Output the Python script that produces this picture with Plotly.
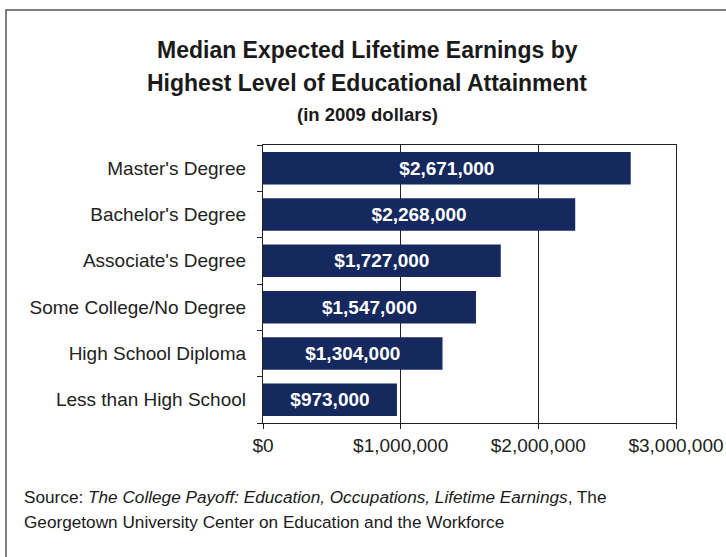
import plotly.graph_objects as go

categories = ["Less than High School", "High School Diploma", "Some College/No Degree",
              "Associate's Degree", "Bachelor's Degree", "Master's Degree"]
earnings = [973000, 1304000, 1547000, 1727000, 2268000, 2671000]
bar_labels = ["$973,000", "$1,304,000", "$1,547,000", "$1,727,000", "$2,268,000", "$2,671,000"]
tick_vals = [0, 1000000, 2000000, 3000000]
tick_text = ["$0", "$1,000,000", "$2,000,000", "$3,000,000"]

W, H = 726, 557
L, R, T, B = 263, 50, 145, 134
pw, ph = W - L - R, H - T - B

def px(x):
    return (x - L) / pw

def py(y):
    return 1 - (y - T) / ph

FONT = "Liberation Sans, Arial, sans-serif"

fig = go.Figure(go.Bar(
    y=categories, x=earnings, orientation="h",
    marker=dict(color="#15295f", line=dict(width=0)),
    width=0.7,
    text=bar_labels, textposition="inside", insidetextanchor="middle",
    textfont=dict(color="white", size=19, family=FONT),
    texttemplate="<b>%{text}</b>",
    cliponaxis=False,
))

fig.update_layout(
    width=W, height=H,
    margin=dict(l=L, r=R, t=T, b=B, autoexpand=False),
    paper_bgcolor="white", plot_bgcolor="white",
    font=dict(family=FONT, color="#222222", size=19),
    showlegend=False,
    uniformtext=dict(mode=False),
)
fig.update_xaxes(
    range=[0, 3000000], tickvals=tick_vals, ticktext=tick_text,
    showgrid=True, gridcolor="#222222", gridwidth=1.3,
    showline=True, linecolor="#222222", linewidth=1.3, mirror=True,
    ticks="outside", ticklen=5, tickcolor="#222222",
    tickfont=dict(size=19), zeroline=False, fixedrange=True, automargin=False,
)
fig.update_yaxes(
    categoryorder="array", categoryarray=categories,
    showline=True, linecolor="#222222", linewidth=1.3, mirror=True,
    ticks="outside", ticklen=5, tickcolor="#222222", tickson="boundaries",
    tickfont=dict(size=19), showgrid=False, ticklabelstandoff=12, automargin=False,
)

anns = [
    dict(text="<b>Median Expected Lifetime Earnings by</b>", x=367, y=50, size=23),
    dict(text="<b>Highest Level of Educational Attainment</b>", x=367, y=83, size=23),
    dict(text="<b>(in 2009 dollars)</b>", x=367, y=114, size=18.5),
]
for a in anns:
    fig.add_annotation(text=a["text"], xref="paper", yref="paper",
                       x=px(a["x"]), y=py(a["y"]), xanchor="center", yanchor="middle",
                       showarrow=False, font=dict(size=a["size"], color="#1a1a1a"))

fig.add_annotation(text="Source: <i>The College Payoff: Education, Occupations, Lifetime Earnings</i>, The",
                   xref="paper", yref="paper", x=px(22), y=py(497), xanchor="left", yanchor="middle",
                   showarrow=False, font=dict(size=17.2, color="#1a1a1a"))
fig.add_annotation(text="Georgetown University Center on Education and the Workforce",
                   xref="paper", yref="paper", x=px(22), y=py(522), xanchor="left", yanchor="middle",
                   showarrow=False, font=dict(size=17.2, color="#1a1a1a"))

# outer frame of the figure
fig.add_shape(type="rect", xref="paper", yref="paper",
              x0=px(6), x1=px(740), y0=py(570), y1=py(10),
              line=dict(color="#555555", width=1.5), layer="below")

fig.write_html("out.html", config={"displayModeBar": False},
               post_script="document.body.style.margin='0';document.body.style.overflow='hidden';")
